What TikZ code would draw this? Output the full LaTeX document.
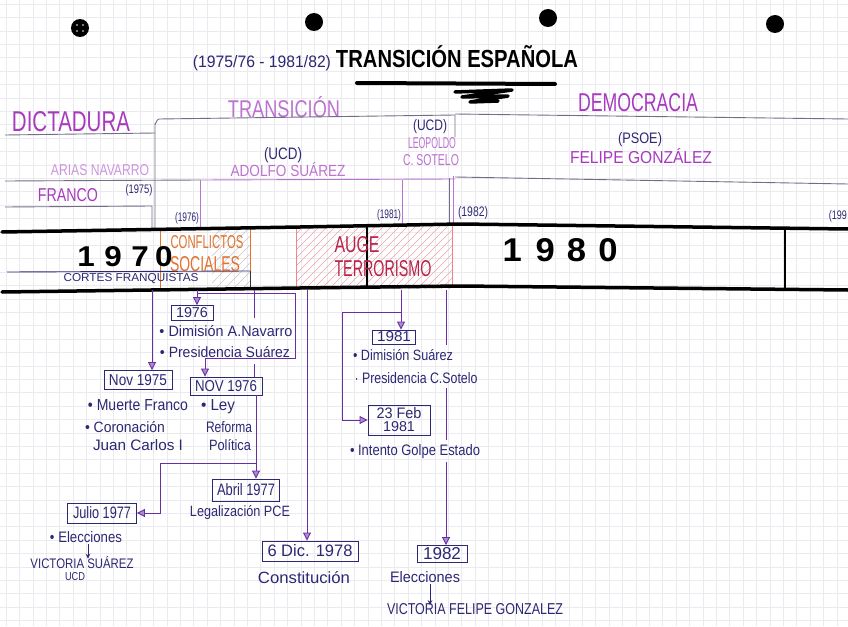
\documentclass[tikz,border=0pt]{standalone}
\usepackage{fontspec}
\setmainfont{Liberation Sans}
\usetikzlibrary{arrows.meta}
\definecolor{pur}{RGB}{168,58,190}
\definecolor{lpur}{RGB}{188,115,208}
\definecolor{vlpur}{RGB}{205,150,220}
\definecolor{navy}{RGB}{45,40,115}
\definecolor{vio}{RGB}{105,45,165}
\definecolor{org}{RGB}{225,115,45}
\definecolor{crim}{RGB}{185,35,75}
\definecolor{hpink}{RGB}{236,165,175}
\definecolor{gline}{RGB}{115,108,135}
\definecolor{gridc}{RGB}{234,234,239}
\newcommand\hwt[3]{\resizebox{#1pt}{#2pt}{#3}}
\begin{document}
\begin{tikzpicture}[x=1pt,y=-1pt,
  lbl/.style={inner sep=0pt,anchor=center},
  note/.style={lbl,text=navy},
  conn/.style={draw=vio,line width=0.9pt},
  arr/.style={conn,-{Triangle[length=8pt,width=8pt,fill=vio!55]}},
  small/.style={draw=navy,line width=0.8pt,-{Stealth[length=5pt,width=4.5pt]}},
  datebox/.style={draw=navy,line width=0.9pt,inner sep=0pt,text=navy},
  frame/.style={draw=gline,line width=0.9pt},
  pframe/.style={draw=lpur,line width=0.9pt},
  bar/.style={line width=3.5pt,line cap=round,line join=round,draw=black}]
\useasboundingbox (0,0) rectangle (848,626);
\fill[white] (0,0) rectangle (848,626);
% graph paper
\foreach \i in {0,...,63} \draw[gridc,line width=0.5pt] ({6+\i*13.4},0) -- ({6+\i*13.4},626);
\foreach \j in {0,...,46} \draw[gridc,line width=0.5pt] (0,{4+\j*13.4}) -- (848,{4+\j*13.4});
% punch holes
\foreach \p/\q in {80/28,314/22,548/18,775/24} \fill[black] (\p,\q) circle[radius=9pt];
\foreach \p/\q in {77/25,83/25,77/31,83/31} \fill[gray!70] (\p,\q) circle[radius=1.1pt];

% title
\node[note] (years) at (262,63) {\hwt{138}{12}{(1975/76 - 1981/82)}};
\node[lbl] (title) at (457,57) {\hwt{242}{22}{\bfseries TRANSICIÓN ESPAÑOLA}};
\draw[line width=4pt,line cap=round] (357,83) -- (555,84);
\draw[line width=3.5pt,line cap=round,line join=round] (455,92) -- (512,90) -- (462,97) -- (508,96) -- (470,102) -- (498,101);

% periods
\node[lbl,text=pur] (dict) at (71,122) {\hwt{118}{20}{DICTADURA}};
\node[lbl,text=lpur] (trans) at (284,107) {\hwt{112}{21}{TRANSICIÓN}};
\node[lbl,text=pur] (demo) at (638,103) {\hwt{120}{18}{DEMOCRACIA}};

% frame lines above the bar
\draw[frame] (5,135) -- (155,133);
\draw[frame] (155,228) -- (155,124) to[out=-90,in=180] (159,119) -- (455,115) -- (455,137);
\draw[frame] (455,114) -- (848,119);
\draw[frame] (5,181) -- (200,180);
\draw[pframe] (200,180) -- (455,179);
\draw[frame] (455,177) -- (848,184);
\draw[pframe] (200,180) -- (200,228);
\draw[pframe] (402,180) -- (402,226);
\draw[frame] (449,178) -- (449,225);
\draw[pframe] (453,176) -- (453,225);
\draw[frame] (5,207) -- (152,206) -- (152,228);

% rulers' names
\node[note] (ucd2) at (430,127) {\hwt{34}{11}{(UCD)}};
\node[lbl,text=lpur] (leo) at (432,143) {\hwt{48}{11}{LEOPOLDO}};
\node[lbl,text=lpur] (sot) at (431,160) {\hwt{56}{11}{C. SOTELO}};
\node[note] (ucd1) at (283,155) {\hwt{38}{12}{(UCD)}};
\node[lbl,text=lpur] (ado) at (288,170) {\hwt{115}{14}{ADOLFO SUÁREZ}};
\node[note] (psoe) at (640,140) {\hwt{44}{11}{(PSOE)}};
\node[lbl,text=pur] (fel) at (641,156) {\hwt{142}{15}{FELIPE GONZÁLEZ}};
\node[lbl,text=vlpur] (arias) at (100,170) {\hwt{98}{11}{ARIAS NAVARRO}};
\node[lbl,text=pur] (fra) at (68,195) {\hwt{60}{13}{FRANCO}};
\node[note] (y75) at (139,190) {\hwt{27}{9}{(1975)}};
\node[note] (y76) at (187,218) {\hwt{24}{9}{(1976)}};
\node[note] (y81) at (389,215) {\hwt{24}{9}{(1981)}};
\node[note] (y82) at (473,213) {\hwt{30}{10}{(1982)}};
\node[note,anchor=east] (y90) at (847,216) {\hwt{18}{9}{(199}};

% hatched areas in the bar
\begin{scope}
\clip (212,228) rectangle (250,288);
\foreach \k in {0,...,12} \draw[gray!45,line width=0.5pt] ({160+\k*9},290) -- ({224+\k*9},226);
\end{scope}
\begin{scope}
\clip (296,226) rectangle (452,288);
\foreach \k in {0,...,28} \draw[hpink,line width=0.5pt] ({240+\k*8},290) -- ({304+\k*8},226);
\end{scope}
\draw[hpink!80!red,line width=0.6pt] (296,227) -- (296,288);
\draw[hpink!80!red,line width=0.6pt] (452,225) -- (452,287);
\draw[org,line width=0.9pt] (160,229) -- (160,289);
\draw[org,line width=0.9pt] (250,228) -- (250,271);

% Cortes franquistas
\draw[navy,line width=0.9pt] (7,272) -- (250,271);
\draw[black!80,line width=0.9pt] (250,271) -- (250,288);
\node[note] (cortes) at (131,279) {\hwt{135}{8}{CORTES FRANQUISTAS}};

% timeline bar
\draw[bar] (2,232) -- (300,227) -- (460,224) -- (848,229);
\draw[bar] (2,292) -- (300,288) -- (460,286) -- (848,290);
\draw[line width=2pt] (367,226) -- (367,287);
\draw[line width=2pt] (785,228) -- (785,288);
\node[lbl] (d70) at (125,257) {\hwt{95}{20}{\bfseries 1\hspace{0.3em}9\hspace{0.3em}7\hspace{0.2em}0}};
\node[lbl] (d80) at (560,250) {\hwt{115}{23}{\bfseries 1\hspace{0.4em}9\hspace{0.35em}8\hspace{0.35em}0}};
\node[lbl,text=org] (conf) at (207,242) {\hwt{73}{13}{CONFLICTOS}};
\node[lbl,text=org] (soc) at (205,264) {\hwt{70}{15}{SOCIALES}};
\node[lbl,text=crim] (auge) at (357,245) {\hwt{45}{16}{AUGE}};
\node[lbl,text=crim] (terr) at (383,269) {\hwt{97}{16}{TERRORISMO}};

% date boxes
\node[datebox,minimum width=42pt,minimum height=15pt] (b76) at (192,313) {\hwt{32}{10}{1976}};
\node[datebox,minimum width=68pt,minimum height=19pt] (nov75) at (138,380) {\hwt{58}{11}{Nov 1975}};
\node[datebox,minimum width=72pt,minimum height=18pt] (nov76) at (226,386) {\hwt{62}{11}{NOV 1976}};
\node[datebox,minimum width=67pt,minimum height=22pt] (abril) at (246,490) {\hwt{58}{12}{Abril 1977}};
\node[datebox,minimum width=69pt,minimum height=20pt] (julio) at (102,513) {\hwt{58}{12}{Julio 1977}};
\node[datebox,minimum width=96pt,minimum height=20pt] (dic) at (310,551) {\hwt{85}{12}{6 Dic. 1978}};
\node[datebox,minimum width=50pt,minimum height=17pt] (b82) at (442,554) {\hwt{38}{12}{1982}};
\node[datebox,minimum width=43pt,minimum height=14pt] (b81) at (394,337) {\hwt{34}{10}{1981}};
\node[datebox,minimum width=62pt,minimum height=30pt,align=center] (feb) at (399,420) {\hwt{45}{11}{23 Feb}\\[1pt]\hwt{32}{10}{1981}};

% notes
\node[note] (n1) at (226,331) {\hwt{133}{11}{• Dimisión A.Navarro}};
\node[note] (n2) at (225,352) {\hwt{130}{11}{• Presidencia Suárez}};
\node[note] (n3) at (138,405) {\hwt{100}{11}{• Muerte Franco}};
\node[note] (n4) at (125,427) {\hwt{80}{11}{• Coronación}};
\node[note] (n5) at (138,445) {\hwt{90}{11}{Juan Carlos I}};
\node[note] (n6) at (218,407) {\hwt{34}{11}{• Ley}};
\node[note] (n7) at (229,427) {\hwt{46}{11}{Reforma}};
\node[note] (n8) at (230,445) {\hwt{42}{11}{Política}};
\node[note] (n9) at (240,513) {\hwt{100}{11}{Legalización PCE}};
\node[note] (elec1) at (86,537) {\hwt{72}{11}{• Elecciones}};
\node[note] (vicS) at (82,563) {\hwt{103}{12}{VICTORIA SUÁREZ}};
\node[note] (ucd3) at (75,577) {\hwt{20}{8}{UCD}};
\node[note] (cons) at (304,578) {\hwt{92}{12}{Constitución}};
\node[note] (elec2) at (425,577) {\hwt{70}{11}{Elecciones}};
\node[note] (vicF) at (475,609) {\hwt{176}{11}{VICTORIA FELIPE GONZALEZ}};
\node[note] (n10) at (403,355) {\hwt{100}{11}{• Dimisión Suárez}};
\node[note] (n11) at (416,378) {\hwt{123}{11}{· Presidencia C.Sotelo}};
\node[note] (n12) at (415,452) {\hwt{130}{11}{• Intento Golpe Estado}};

% connectors
\coordinate (s1) at (152,290);
\coordinate (s2) at (197,290);
\coordinate (s3) at (254,290);
\coordinate (s4) at (307,290);
\coordinate (s5) at (401,290);
\coordinate (s6) at (446,290);
\coordinate (k1) at (197,293);
\coordinate (k2) at (295,293);
\coordinate (k3) at (295,358);
\coordinate (k4) at (205,358);
\coordinate (m1) at (254,318);
\coordinate (m2) at (254,364);
\coordinate (m3) at (256,463);
\coordinate (m4) at (160,463);
\coordinate (m5) at (160,513);
\coordinate (p1) at (401,312);
\coordinate (p2) at (342,312);
\coordinate (p3) at (342,420);
\coordinate (q1) at (446,345);
\coordinate (q2) at (446,388);
\coordinate (q3) at (446,440);
\coordinate (q4) at (446,462);

\draw[arr] (s1) -- (s1 |- nov75.north);
\draw[arr] (s2) -- (s2 |- b76.north);
\draw[arr] (k1) -- (k2) -- (k3) -- (k4) -- (k4 |- nov76.north);
\draw[conn] (s3) -- (m1);
\draw[conn] (m2) -- (m2 |- nov76.north);
\draw[arr] (nov76.south -| m3) -- (m3 |- abril.north);
\draw[arr] (m3) -- (m4) -- (m5) -- (julio.east);
\draw[arr] (s4) -- (s4 |- dic.north);
\draw[arr] (s5) -- (s5 |- b81.north);
\draw[arr] (p1) -- (p2) -- (p3) -- (feb.west);
\draw[conn] (s6) -- (q1);
\draw[conn] (q2) -- (q3);
\draw[arr] (q4) -- (q4 |- b82.north);
\draw[small] ([xshift=2pt,yshift=-1pt]elec1.south) -- ([xshift=6pt,yshift=-2pt]vicS.north);
\draw[small] ([xshift=5pt,yshift=-1pt]elec2.south) -- ([xshift=-45pt,yshift=-2pt]vicF.north);
\end{tikzpicture}
\end{document}
